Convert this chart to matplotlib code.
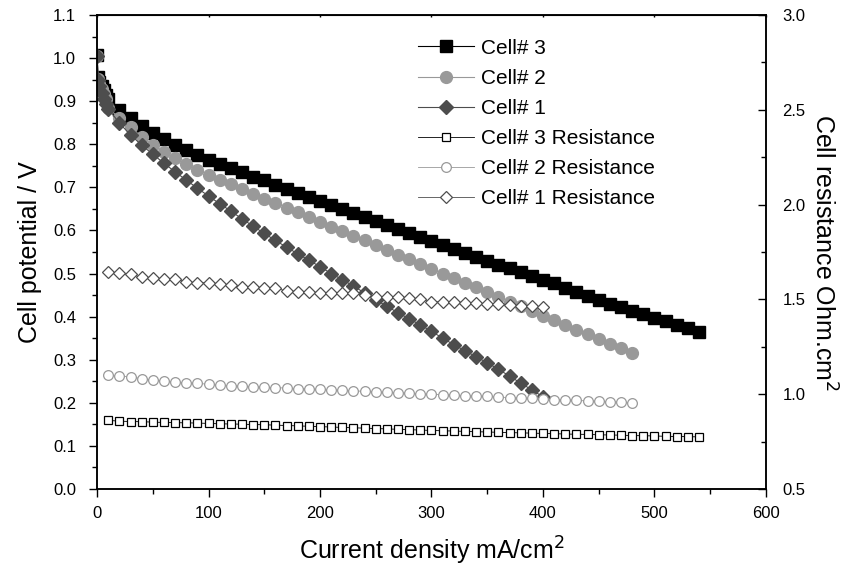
import numpy as np
import matplotlib
matplotlib.use("Agg")
import matplotlib.pyplot as plt
from matplotlib.ticker import MultipleLocator, FormatStrFormatter

plt.rcParams['font.family'] = ['Liberation Sans', 'DejaVu Sans']

# polarization curves (mA/cm2, V)
j_start = [0, 1, 2, 4, 6, 8]
v3_start = [1.008, 0.955, 0.945, 0.935, 0.925, 0.915]
v2_start = [1.005, 0.952, 0.940, 0.928, 0.916, 0.905]
v1_start = [1.005, 0.950, 0.935, 0.920, 0.905, 0.893]

v_cell3 = [0.904, 0.880, 0.860, 0.842, 0.826, 0.813, 0.799, 0.787, 0.775,
           0.764, 0.754, 0.744, 0.735, 0.725, 0.716, 0.706, 0.697, 0.688, 0.678,
           0.669, 0.659, 0.650, 0.640, 0.631, 0.621, 0.612, 0.603, 0.593, 0.584,
           0.575, 0.566, 0.557, 0.548, 0.539, 0.530, 0.521, 0.512, 0.503, 0.495,
           0.486, 0.477, 0.467, 0.458, 0.448, 0.438, 0.430, 0.423, 0.414, 0.406,
           0.398, 0.389, 0.381, 0.373, 0.365]
v_cell2 = [0.885, 0.860, 0.839, 0.818, 0.798, 0.783, 0.767, 0.754, 0.741,
           0.729, 0.718, 0.707, 0.696, 0.685, 0.674, 0.664, 0.653, 0.642, 0.631,
           0.620, 0.609, 0.598, 0.587, 0.577, 0.566, 0.555, 0.544, 0.533, 0.522,
           0.511, 0.500, 0.490, 0.479, 0.468, 0.457, 0.446, 0.435, 0.424, 0.413,
           0.402, 0.392, 0.381, 0.370, 0.359, 0.348, 0.337, 0.327, 0.316]
v_cell1 = [0.883, 0.849, 0.822, 0.798, 0.777, 0.756, 0.736, 0.717, 0.698,
           0.680, 0.662, 0.645, 0.627, 0.610, 0.593, 0.577, 0.561, 0.546, 0.531,
           0.516, 0.500, 0.486, 0.471, 0.455, 0.439, 0.424, 0.409, 0.395, 0.381,
           0.366, 0.350, 0.335, 0.321, 0.307, 0.293, 0.278, 0.262, 0.246, 0.230,
           0.214]

# cell resistance (Ohm.cm2)
r_cell3 = [0.862, 0.858, 0.856, 0.855, 0.853, 0.851, 0.850, 0.849, 0.848,
           0.846, 0.844, 0.843, 0.842, 0.840, 0.839, 0.837, 0.835, 0.833, 0.831,
           0.829, 0.827, 0.825, 0.823, 0.821, 0.819, 0.817, 0.815, 0.813, 0.811,
           0.809, 0.807, 0.806, 0.804, 0.802, 0.801, 0.799, 0.798, 0.796, 0.795,
           0.793, 0.792, 0.790, 0.789, 0.788, 0.786, 0.785, 0.784, 0.782, 0.781,
           0.780, 0.778, 0.777, 0.776, 0.775]
r_cell2 = [1.100, 1.095, 1.092, 1.082, 1.075, 1.070, 1.062, 1.060, 1.058,
           1.052, 1.048, 1.045, 1.042, 1.040, 1.036, 1.035, 1.032, 1.030, 1.028,
           1.025, 1.022, 1.020, 1.018, 1.015, 1.012, 1.010, 1.008, 1.005, 1.002,
           1.000, 0.998, 0.995, 0.992, 0.990, 0.988, 0.985, 0.982, 0.980, 0.978,
           0.975, 0.972, 0.970, 0.967, 0.965, 0.962, 0.960, 0.958, 0.955]
r_cell1 = [1.646, 1.638, 1.632, 1.617, 1.611, 1.609, 1.608, 1.593, 1.588,
           1.588, 1.581, 1.576, 1.567, 1.567, 1.562, 1.558, 1.546, 1.541, 1.541,
           1.535, 1.535, 1.532, 1.532, 1.523, 1.514, 1.514, 1.514, 1.509, 1.500,
           1.488, 1.488, 1.488, 1.483, 1.479, 1.476, 1.476, 1.470, 1.465, 1.465,
           1.461]

j3 = np.arange(10, 550, 10)
j2 = np.arange(10, 490, 10)
j1 = np.arange(10, 410, 10)

c_black = '#000000'
c_gray = '#999999'
c_dark = '#4d4d4d'

fig = plt.figure(figsize=(8.44, 5.66), dpi=100)
ax = fig.add_axes([0.115, 0.136, 0.7925, 0.8375])
ax2 = ax.twinx()

h3, = ax.plot(j_start + list(j3), v3_start + v_cell3, '-s', color=c_black, lw=0.8,
              ms=8, mec=c_black, mfc=c_black, label='Cell# 3')
h2, = ax.plot(j_start + list(j2), v2_start + v_cell2, '-o', color=c_gray, lw=0.8,
              ms=8.5, mec=c_gray, mfc=c_gray, label='Cell# 2')
h1, = ax.plot(j_start + list(j1), v1_start + v_cell1, '-D', color=c_dark, lw=0.8,
              ms=7, mec=c_dark, mfc=c_dark, label='Cell# 1')

r3, = ax2.plot(j3, r_cell3, '-s', color=c_black, lw=0.6, ms=6, mfc='white',
               mec=c_black, mew=0.9, label='Cell# 3 Resistance')
r2, = ax2.plot(j2, r_cell2, '-o', color=c_gray, lw=0.6, ms=7, mfc='white',
               mec=c_gray, mew=0.9, label='Cell# 2 Resistance')
r1, = ax2.plot(j1, r_cell1, '-D', color=c_dark, lw=0.6, ms=6, mfc='white',
               mec=c_dark, mew=0.9, label='Cell# 1 Resistance')

ax.set_xlim(0, 600)
ax.set_ylim(0, 1.1)
ax2.set_ylim(0.5, 3.0)

ax.xaxis.set_major_locator(MultipleLocator(100))
ax.xaxis.set_minor_locator(MultipleLocator(50))
ax.yaxis.set_major_locator(MultipleLocator(0.1))
ax.yaxis.set_minor_locator(MultipleLocator(0.05))
ax2.yaxis.set_major_locator(MultipleLocator(0.5))
ax2.yaxis.set_minor_locator(MultipleLocator(0.25))

ax.tick_params(axis='both', which='major', direction='out', length=6, width=1,
               labelsize=12)
ax.tick_params(axis='both', which='minor', direction='out', length=3.5, width=1)
ax.tick_params(axis='y', which='major', pad=9)
ax.tick_params(axis='x', which='major', pad=6)
# tiny inward ticks on the top edge
ax.secondary_xaxis('top').tick_params(which='both', direction='in', length=1.5,
                                      width=1, labeltop=False)
ax2.tick_params(axis='y', which='major', direction='in', length=6, width=1,
                labelsize=12, pad=12)
ax2.tick_params(axis='y', which='minor', direction='in', length=3.5, width=1)

ax.yaxis.set_major_formatter(FormatStrFormatter('%.1f'))
ax2.yaxis.set_major_formatter(FormatStrFormatter('%.1f'))

for a in (ax, ax2):
    for s in a.spines.values():
        s.set_linewidth(1.1)

ax.set_xlabel('Current density mA/cm$^2$', fontsize=18, labelpad=10)
ax.set_ylabel('Cell potential / V', fontsize=18, labelpad=8)
ax2.set_ylabel('Cell resistance Ohm.cm$^2$', fontsize=18, rotation=270, labelpad=22)

ax2.legend(handles=[h3, h2, h1, r3, r2, r1], loc='upper left',
           bbox_to_anchor=(0.48, 0.95), frameon=False, fontsize=15,
           handlelength=2.7, handletextpad=0.3, labelspacing=0.535, borderaxespad=0,
           borderpad=0)

fig.savefig('out.png', dpi=100)
